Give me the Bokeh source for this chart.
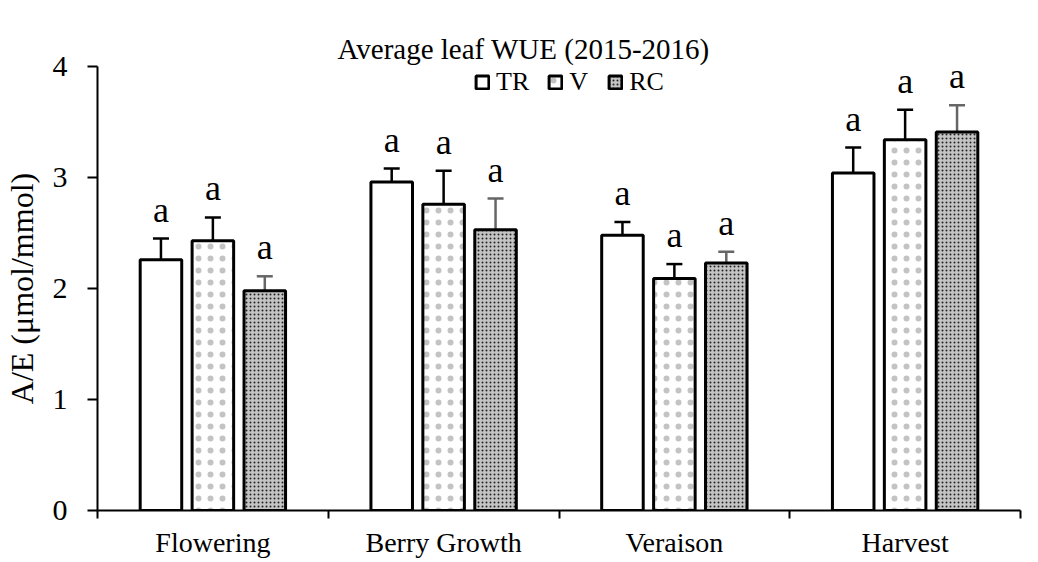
import numpy as np
from bokeh.plotting import figure
from bokeh.models import (ColumnDataSource, FixedTicker, Whisker, TeeHead, LabelSet,
                          Legend, LegendItem, Range1d, Title)
from bokeh.embed import file_html
from bokeh.resources import INLINE

# ---- data ----
stages = ["Flowering", "Berry Growth", "Veraison", "Harvest"]
series = ["TR", "V", "RC"]
tr_mean = [2.26, 2.96, 2.48, 3.04]
tr_err = [0.19, 0.12, 0.12, 0.23]
v_mean = [2.43, 2.76, 2.09, 3.34]
v_err = [0.21, 0.30, 0.13, 0.27]
rc_mean = [1.98, 2.53, 2.23, 3.41]
rc_err = [0.13, 0.28, 0.10, 0.24]
letters_tr = ["a", "a", "a", "a"]
letters_v = ["a", "a", "a", "a"]
letters_rc = ["a", "a", "a", "a"]
y_ticks = [0, 1, 2, 3, 4]
title_text = "Average leaf WUE (2015-2016)"

FONT = "Liberation Serif"

p = figure(width=1022, height=560, output_backend="svg", toolbar_location=None,
           x_range=Range1d(0, 4), y_range=Range1d(0, 4), title=".")
p.min_border_left = 95
p.min_border_right = 2
p.min_border_bottom = 40
p.min_border_top = 66
p.outline_line_color = None
p.grid.grid_line_color = None
p.background_fill_color = "white"

# built-in title used as an invisible spacer next to the plot area
p.title.text_font_size = "10px"
p.title.text_alpha = 0
p.title.standoff = 16

# visible title, stacked above the spacer
p.add_layout(Title(text=title_text, align="left", offset=240, text_font=FONT,
                   text_font_size="29px", text_font_style="normal",
                   text_color="black", standoff=4), "above")

offsets = [-0.225, 0.0, 0.225]
bw = 0.18
styles = [
    dict(fill_color="white"),
    dict(fill_color="white", hatch_pattern="dot", hatch_scale=12,
         hatch_color="#888888", hatch_alpha=0.5),
    dict(fill_color="#c4c4c4", hatch_pattern="dot", hatch_scale=4, hatch_color="#222222"),
]
err_colors = ["black", "black", "#666666"]
means = [tr_mean, v_mean, rc_mean]
errs = [tr_err, v_err, rc_err]
letters = [letters_tr, letters_v, letters_rc]

items = []
for k, name in enumerate(series):
    xs = np.arange(len(stages)) + 0.5 + offsets[k]
    m = np.array(means[k])
    e = np.array(errs[k])
    src = ColumnDataSource(dict(x=xs, top=m, up=m + e, lab=letters[k]))
    w = Whisker(source=src, base="x", lower="top", upper="up", dimension="height",
                line_color=err_colors[k], line_width=2.5,
                upper_head=TeeHead(size=16, line_color=err_colors[k], line_width=2.5),
                lower_head=None)
    p.add_layout(w)
    r = p.vbar(x="x", top="top", bottom=0, width=bw, source=src,
               line_color="black", line_width=3, **styles[k])
    items.append(LegendItem(label=name, renderers=[r]))
    ls = LabelSet(x="x", y="up", text="lab", source=src, text_align="center",
                  text_baseline="alphabetic", y_offset=17,
                  text_font=FONT, text_font_size="36px", text_color="black")
    p.add_layout(ls)

legend = Legend(items=items, orientation="horizontal", location=(377, 413),
                label_text_font=FONT, label_text_font_size="26px", label_text_color="black",
                glyph_width=16, glyph_height=16, label_standoff=6, spacing=18,
                padding=1, margin=0, border_line_color=None, background_fill_alpha=0)
p.add_layout(legend, "center")

# axes
p.yaxis.ticker = FixedTicker(ticks=y_ticks)
p.yaxis.major_tick_out = 10
p.yaxis.major_tick_in = 0
p.yaxis.major_tick_line_width = 2
p.yaxis.minor_tick_line_color = None
p.yaxis.axis_line_width = 2
p.yaxis.major_label_text_font = FONT
p.yaxis.major_label_text_font_size = "30px"
p.yaxis.major_label_text_color = "black"
p.yaxis.major_label_standoff = 20
p.yaxis.axis_label = "A/E (μmol/mmol)"
p.yaxis.axis_label_text_font = FONT
p.yaxis.axis_label_text_font_size = "32px"
p.yaxis.axis_label_text_font_style = "normal"
p.yaxis.axis_label_text_color = "black"
p.yaxis.axis_label_standoff = 10

centers = [i + 0.5 for i in range(len(stages))]
p.xaxis.ticker = FixedTicker(ticks=centers, minor_ticks=list(range(len(stages) + 1)))
p.xaxis.major_label_overrides = {c: s for c, s in zip(centers, stages)}
p.xaxis.major_tick_line_color = None
p.xaxis.minor_tick_out = 8
p.xaxis.minor_tick_in = 0
p.xaxis.minor_tick_line_width = 2
p.xaxis.axis_line_width = 2
p.xaxis.major_label_text_font = FONT
p.xaxis.major_label_text_font_size = "28px"
p.xaxis.major_label_text_color = "black"
p.xaxis.major_label_standoff = 8

open("out.html", "w").write(file_html(p, INLINE))
